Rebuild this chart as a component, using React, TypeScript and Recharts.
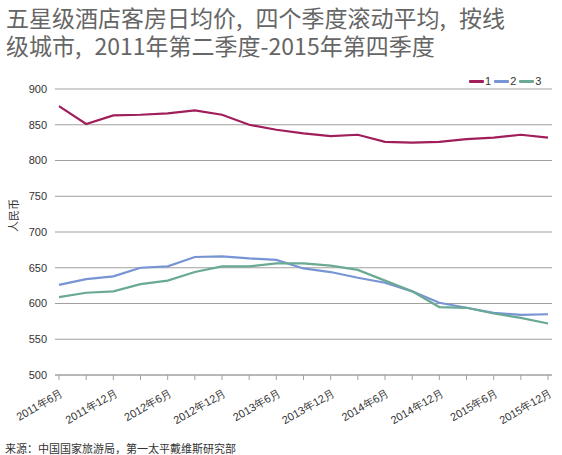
import { CartesianGrid, Line, LineChart, XAxis, YAxis } from "recharts";

const quarters = [
  "2011年6月", "2011年9月", "2011年12月", "2012年3月", "2012年6月", "2012年9月", "2012年12月",
  "2013年3月", "2013年6月", "2013年9月", "2013年12月", "2014年3月", "2014年6月", "2014年9月",
  "2014年12月", "2015年3月", "2015年6月", "2015年9月", "2015年12月",
];
const tier1 = [876, 851, 863, 864, 866, 870, 864, 850, 843, 838, 834, 836, 826, 825, 826, 830, 832, 836, 832];
const tier2 = [626, 634, 638, 650, 652, 665, 666, 663, 661, 649, 644, 636, 629, 617, 601, 594, 587, 584, 585];
const tier3 = [609, 615, 617, 627, 632, 644, 652, 652, 656, 656, 653, 647, 632, 617, 595, 594, 586, 580, 572];
const yTicks = [500, 550, 600, 650, 700, 750, 800, 850, 900];

const series = [
  { key: "1", values: tier1, color: "#a01e5a" },
  { key: "2", values: tier2, color: "#7794d4" },
  { key: "3", values: tier3, color: "#6aa993" },
];

const data = quarters.map((q, i) => {
  const row: Record<string, number | string> = { q };
  series.forEach((s) => (row[s.key] = s.values[i]));
  return row;
});

const font = "'Liberation Sans', Arial, sans-serif";
const cjk = "'Noto Sans CJK SC', sans-serif";

function QuarterTick(props: any) {
  const { x, y, payload, index } = props;
  if (index % 2 !== 0) return null;
  return (
    <g transform={`translate(${x + 2},${y + 8})`}>
      <text x={0} y={0} dy={6} textAnchor="end" transform="rotate(-30)" fill="#333" fontSize={11} fontFamily={font}>
        {payload.value}
      </text>
    </g>
  );
}

export default function App() {
  return (
    <div style={{ position: "absolute", left: 0, top: 0, width: 562, height: 455, background: "#fff" }}>
      <div
        style={{
          position: "absolute",
          left: 6,
          top: 3,
          fontFamily: cjk,
          fontSize: 23,
          lineHeight: "28px",
          color: "#666",
          wordSpacing: 8,
          whiteSpace: "nowrap",
        }}
      >
        <div>五星级酒店客房日均价, 四个季度滚动平均, 按线</div>
        <div>级城市, 2011年第二季度-2015年第四季度</div>
      </div>
      <div
        style={{
          position: "absolute",
          left: 466,
          top: 75,
          display: "flex",
          alignItems: "center",
          fontFamily: font,
          fontSize: 11,
          color: "#333",
        }}
      >
        {series.map((s) => (
          <div key={s.key} style={{ display: "flex", alignItems: "center", marginLeft: 3 }}>
            <span style={{ display: "inline-block", width: 15, height: 3, background: s.color, borderRadius: 1 }} />
            <span style={{ marginLeft: 1 }}>{s.key}</span>
          </div>
        ))}
      </div>
      <div style={{ position: "absolute", left: 0, top: 0 }}>
        <LineChart width={562} height={455} data={data} margin={{ top: 89, right: 10, bottom: 0, left: 0 }}>
          <CartesianGrid vertical={false} stroke="#a0a0a0" strokeWidth={1} />
          <XAxis
            dataKey="q"
            interval={0}
            tick={<QuarterTick />}
            tickSize={5}
            padding={{ left: 4, right: 4 }}
            stroke="#a0a0a0"
            height={80}
          />
          <YAxis
            domain={[500, 900]}
            ticks={yTicks}
            width={55}
            axisLine={false}
            tickLine={false}
            tick={{ fill: "#333", fontSize: 11, fontFamily: font }}
            label={{ value: "人民币", angle: -90, position: "insideLeft", offset: 14, fill: "#333", fontSize: 11, fontFamily: cjk }}
          />
          {series.map((s) => (
            <Line
              key={s.key}
              type="linear"
              dataKey={s.key}
              stroke={s.color}
              strokeWidth={2.2}
              dot={false}
              isAnimationActive={false}
            />
          ))}
        </LineChart>
      </div>
      <div
        style={{
          position: "absolute",
          left: 5,
          top: 440,
          fontFamily: cjk,
          fontSize: 11,
          color: "#333",
          whiteSpace: "nowrap",
        }}
      >
        来源：中国国家旅游局，第一太平戴维斯研究部
      </div>
    </div>
  );
}
